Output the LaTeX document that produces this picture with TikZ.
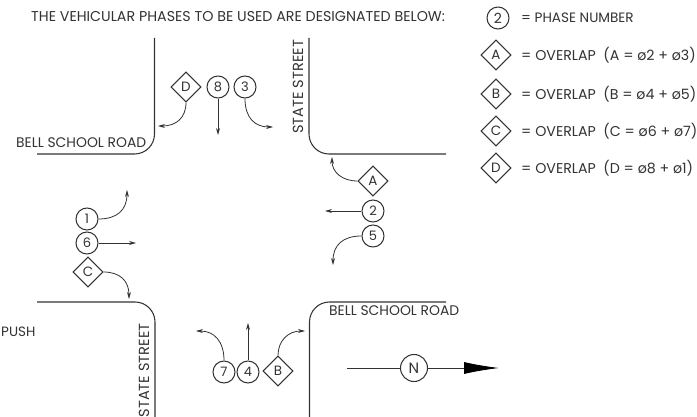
\documentclass[tikz,border=0pt]{standalone}
\usepackage{fontspec}
\setmainfont{Poppins}
\usetikzlibrary{shapes.geometric,arrows.meta}
\definecolor{ink}{gray}{0.2}
\tikzset{
  x=1pt,y=-1pt,
  road/.style={draw=ink,line width=1.05pt,rounded corners=20pt},
  phase/.style={circle,draw=ink,line width=1.05pt,minimum size=22pt,inner sep=0pt,text=ink,font=\fontsize{13}{13}\selectfont},
  overlap/.style={diamond,draw=ink,line width=1.05pt,minimum size=30pt,inner sep=0pt,text=ink,font=\fontsize{13.5}{14}\selectfont},
  flow/.style={draw=ink,line width=0.8pt,-{Stealth[length=7pt,width=4pt]}},
  lab/.style={text=ink,font=\fontsize{13.9}{14}\selectfont,inner sep=0pt},
  leg/.style={text=ink,font=\fontsize{14.2}{14}\selectfont,inner sep=0pt,anchor=west}
}
\begin{document}
\begin{tikzpicture}
\useasboundingbox (0,0) rectangle (697,417);
\fill[white] (0,0) rectangle (697,417);
\node[lab,anchor=west,font=\fontsize{14.25}{14}\selectfont] (head) at (31,17) {THE VEHICULAR PHASES TO BE USED ARE DESIGNATED BELOW:};
% roads
\draw[road] (154.5,38) -- (154.5,154) -- (37,154);
\draw[road] (309,38) -- (309,154) -- (446,154);
\draw[road] (37,302) -- (155,302) -- (155,417);
\draw[road] (309.5,417) -- (309.5,302) -- (446,302);
\node[lab,anchor=west] (r1) at (16,143) {BELL SCHOOL ROAD};
\node[lab,anchor=west] (r2) at (329,311) {BELL SCHOOL ROAD};
\node[lab,rotate=90,font=\fontsize{14.6}{15}\selectfont] (s1) at (298,87) {STATE STREET};
\node[lab,rotate=90,font=\fontsize{14.6}{15}\selectfont] (s2) at (144,370.5) {STATE STREET};
\node[lab,anchor=west,font=\fontsize{13.5}{14}\selectfont] (push) at (1,332) {PUSH};
% phases
\node[overlap] (D) at (186,87) {D};
\node[phase] (p8) at (218,87) {8};
\node[phase] (p3) at (245,87) {3};
\node[overlap] (A) at (373,181) {A};
\node[phase] (p2) at (373,211) {2};
\node[phase] (p5) at (373,236) {5};
\node[phase] (p1) at (87,219) {1};
\node[phase] (p6) at (87,243) {6};
\node[overlap] (C) at (88,272) {C};
\node[phase] (p7) at (224,372) {7};
\node[phase] (p4) at (248,372) {4};
\node[overlap] (B) at (278,371) {B};
% free ends
\coordinate (eD) at (158,126);
\coordinate (e8) at (218,135);
\coordinate (e3) at (273,127);
\coordinate (eA) at (332,157);
\coordinate (e2) at (325,211);
\coordinate (e5) at (333,265);
\coordinate (e1) at (127,190);
\coordinate (e6) at (136,243);
\coordinate (eC) at (129,299);
\coordinate (e7) at (196,331);
\coordinate (e4) at (248,323);
\coordinate (eB) at (305,331);
\draw[flow] (D.south) .. controls (186,118) and (176,126) .. (eD);
\draw[flow] (p8.south) -- (e8);
\draw[flow] (p3.south) .. controls (245,118) and (255,127) .. (e3);
\draw[flow] (A.west) .. controls (342,181) and (332,172) .. (eA);
\draw[flow] (p2.west) -- (e2);
\draw[flow] (p5.west) .. controls (343,236) and (333,245) .. (e5);
\draw[flow] (p1.east) .. controls (117,219) and (127,210) .. (e1);
\draw[flow] (p6.east) -- (e6);
\draw[flow] (C.east) .. controls (120,272) and (129,281) .. (eC);
\draw[flow] (p7.north) .. controls (224,341) and (214,331) .. (e7);
\draw[flow] (p4.north) -- (e4);
\draw[flow] (B.north) .. controls (278,341) and (288,331) .. (eB);
% north arrow
\node[phase,minimum size=27pt,font=\fontsize{15}{15}\selectfont] (N) at (414,368) {N};
\coordinate (nw) at (347,368);
\coordinate (ne) at (499,368);
\draw[draw=ink,line width=0.8pt] (nw) -- (N);
\draw[draw=ink,line width=0.8pt,-{Latex[length=35pt,width=12pt,black]}] (N) -- (ne);
% legend
\node[phase,font=\fontsize{14}{14}\selectfont] (lg) at (498,18) {2};
\node[overlap] (lA) at (496,55) {A};
\node[overlap] (lB) at (496,94) {B};
\node[overlap] (lC) at (496,131) {C};
\node[overlap] (lD) at (496,168) {D};
\node[leg,font=\fontsize{13.6}{14}\selectfont] (tg) at (521,18) {= PHASE NUMBER};
\node[leg] (tA) at (521,55) {= OVERLAP~~(A = ø2 + ø3)};
\node[leg] (tB) at (521,94) {= OVERLAP~~(B = ø4 + ø5)};
\node[leg] (tC) at (521,131) {= OVERLAP~~(C = ø6 + ø7)};
\node[leg] (tD) at (521,168) {= OVERLAP~~(D = ø8 + ø1)};
\end{tikzpicture}
\end{document}
